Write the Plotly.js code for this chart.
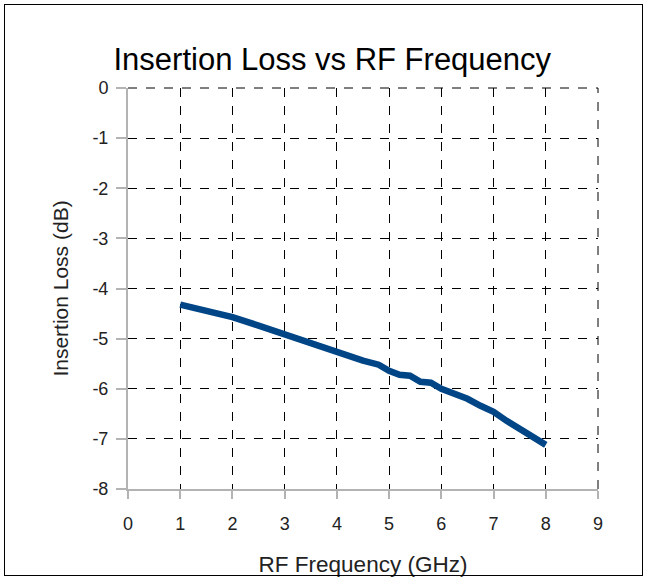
<!DOCTYPE html>
<html>
<head>
<meta charset="utf-8">
<script src="https://cdn.plot.ly/plotly-3.0.1.min.js"></script>
<style>
html,body{margin:0;padding:0;background:#fff;}
#frame{position:absolute;left:4px;top:4px;width:639px;height:572px;border:1px solid #000;box-sizing:border-box;pointer-events:none;z-index:10;}
#chart{width:649px;height:582px;}
</style>
</head>
<body>
<div id="frame"></div>
<div id="chart"></div>
<script>
const freqGHz = [1, 1.5, 2, 2.5, 3, 3.5, 4, 4.5, 4.8, 5.0, 5.2, 5.4, 5.6, 5.8, 6.0, 6.25, 6.5, 6.75, 7.0, 7.25, 7.5, 7.75, 8.0];
const insertionLossDb = [-4.32, -4.44, -4.57, -4.74, -4.92, -5.09, -5.26, -5.44, -5.52, -5.64, -5.72, -5.74, -5.86, -5.88, -6.0, -6.1, -6.2, -6.34, -6.46, -6.64, -6.8, -6.96, -7.12];
const xTicks = [0,1,2,3,4,5,6,7,8,9];
const yTicks = [0,-1,-2,-3,-4,-5,-6,-7,-8];

const trace = {
  x: freqGHz, y: insertionLossDb, type: 'scatter', mode: 'lines',
  line: {color: '#004586', width: 6.5}, hoverinfo: 'skip'
};
const edgeGrid = {type: 'line', layer: 'below', line: {color: '#000', width: 1, dash: 'dash'}};
const layout = {
  width: 649, height: 582,
  margin: {l: 128, r: 51, t: 88, b: 93},
  paper_bgcolor: '#fff', plot_bgcolor: '#fff',
  showlegend: false,
  font: {family: 'Liberation Sans, Arial, sans-serif', color: '#222'},
  title: {text: 'Insertion Loss vs RF Frequency', font: {size: 31, color: '#000'}, x: 0.512, xanchor: 'center', y: 0.898, yanchor: 'middle'},
  xaxis: {
    range: [0, 9], tickvals: xTicks, ticktext: xTicks.map(String),
    showgrid: true, gridcolor: '#000', griddash: 'dash', gridwidth: 1,
    zeroline: false, showline: true, linecolor: '#b3b3b3', linewidth: 2,
    ticks: 'outside', ticklen: 8, tickcolor: '#b3b3b3', tickwidth: 2,
    ticklabelstandoff: 9,
    tickfont: {size: 18}, fixedrange: true,
    title: {text: 'RF Frequency (GHz)', font: {size: 22.5}, standoff: 24}
  },
  yaxis: {
    range: [-8, 0], tickvals: yTicks, ticktext: yTicks.map(String),
    showgrid: true, gridcolor: '#000', griddash: 'dash', gridwidth: 1,
    zeroline: false, showline: true, linecolor: '#b3b3b3', linewidth: 2,
    ticks: 'outside', ticklen: 10, tickcolor: '#b3b3b3', tickwidth: 2,
    ticklabelstandoff: 4,
    tickfont: {size: 18}, fixedrange: true,
    title: {text: 'Insertion Loss (dB)', font: {size: 21}, standoff: 18}
  },
  shapes: [
    Object.assign({xref: 'paper', yref: 'paper', x0: 1, x1: 1, y0: 0, y1: 1}, edgeGrid),
    Object.assign({xref: 'paper', yref: 'paper', x0: 0, x1: 1, y0: 1, y1: 1}, edgeGrid)
  ]
};
Plotly.newPlot('chart', [trace], layout, {displayModeBar: false, staticPlot: true});
</script>
</body>
</html>
